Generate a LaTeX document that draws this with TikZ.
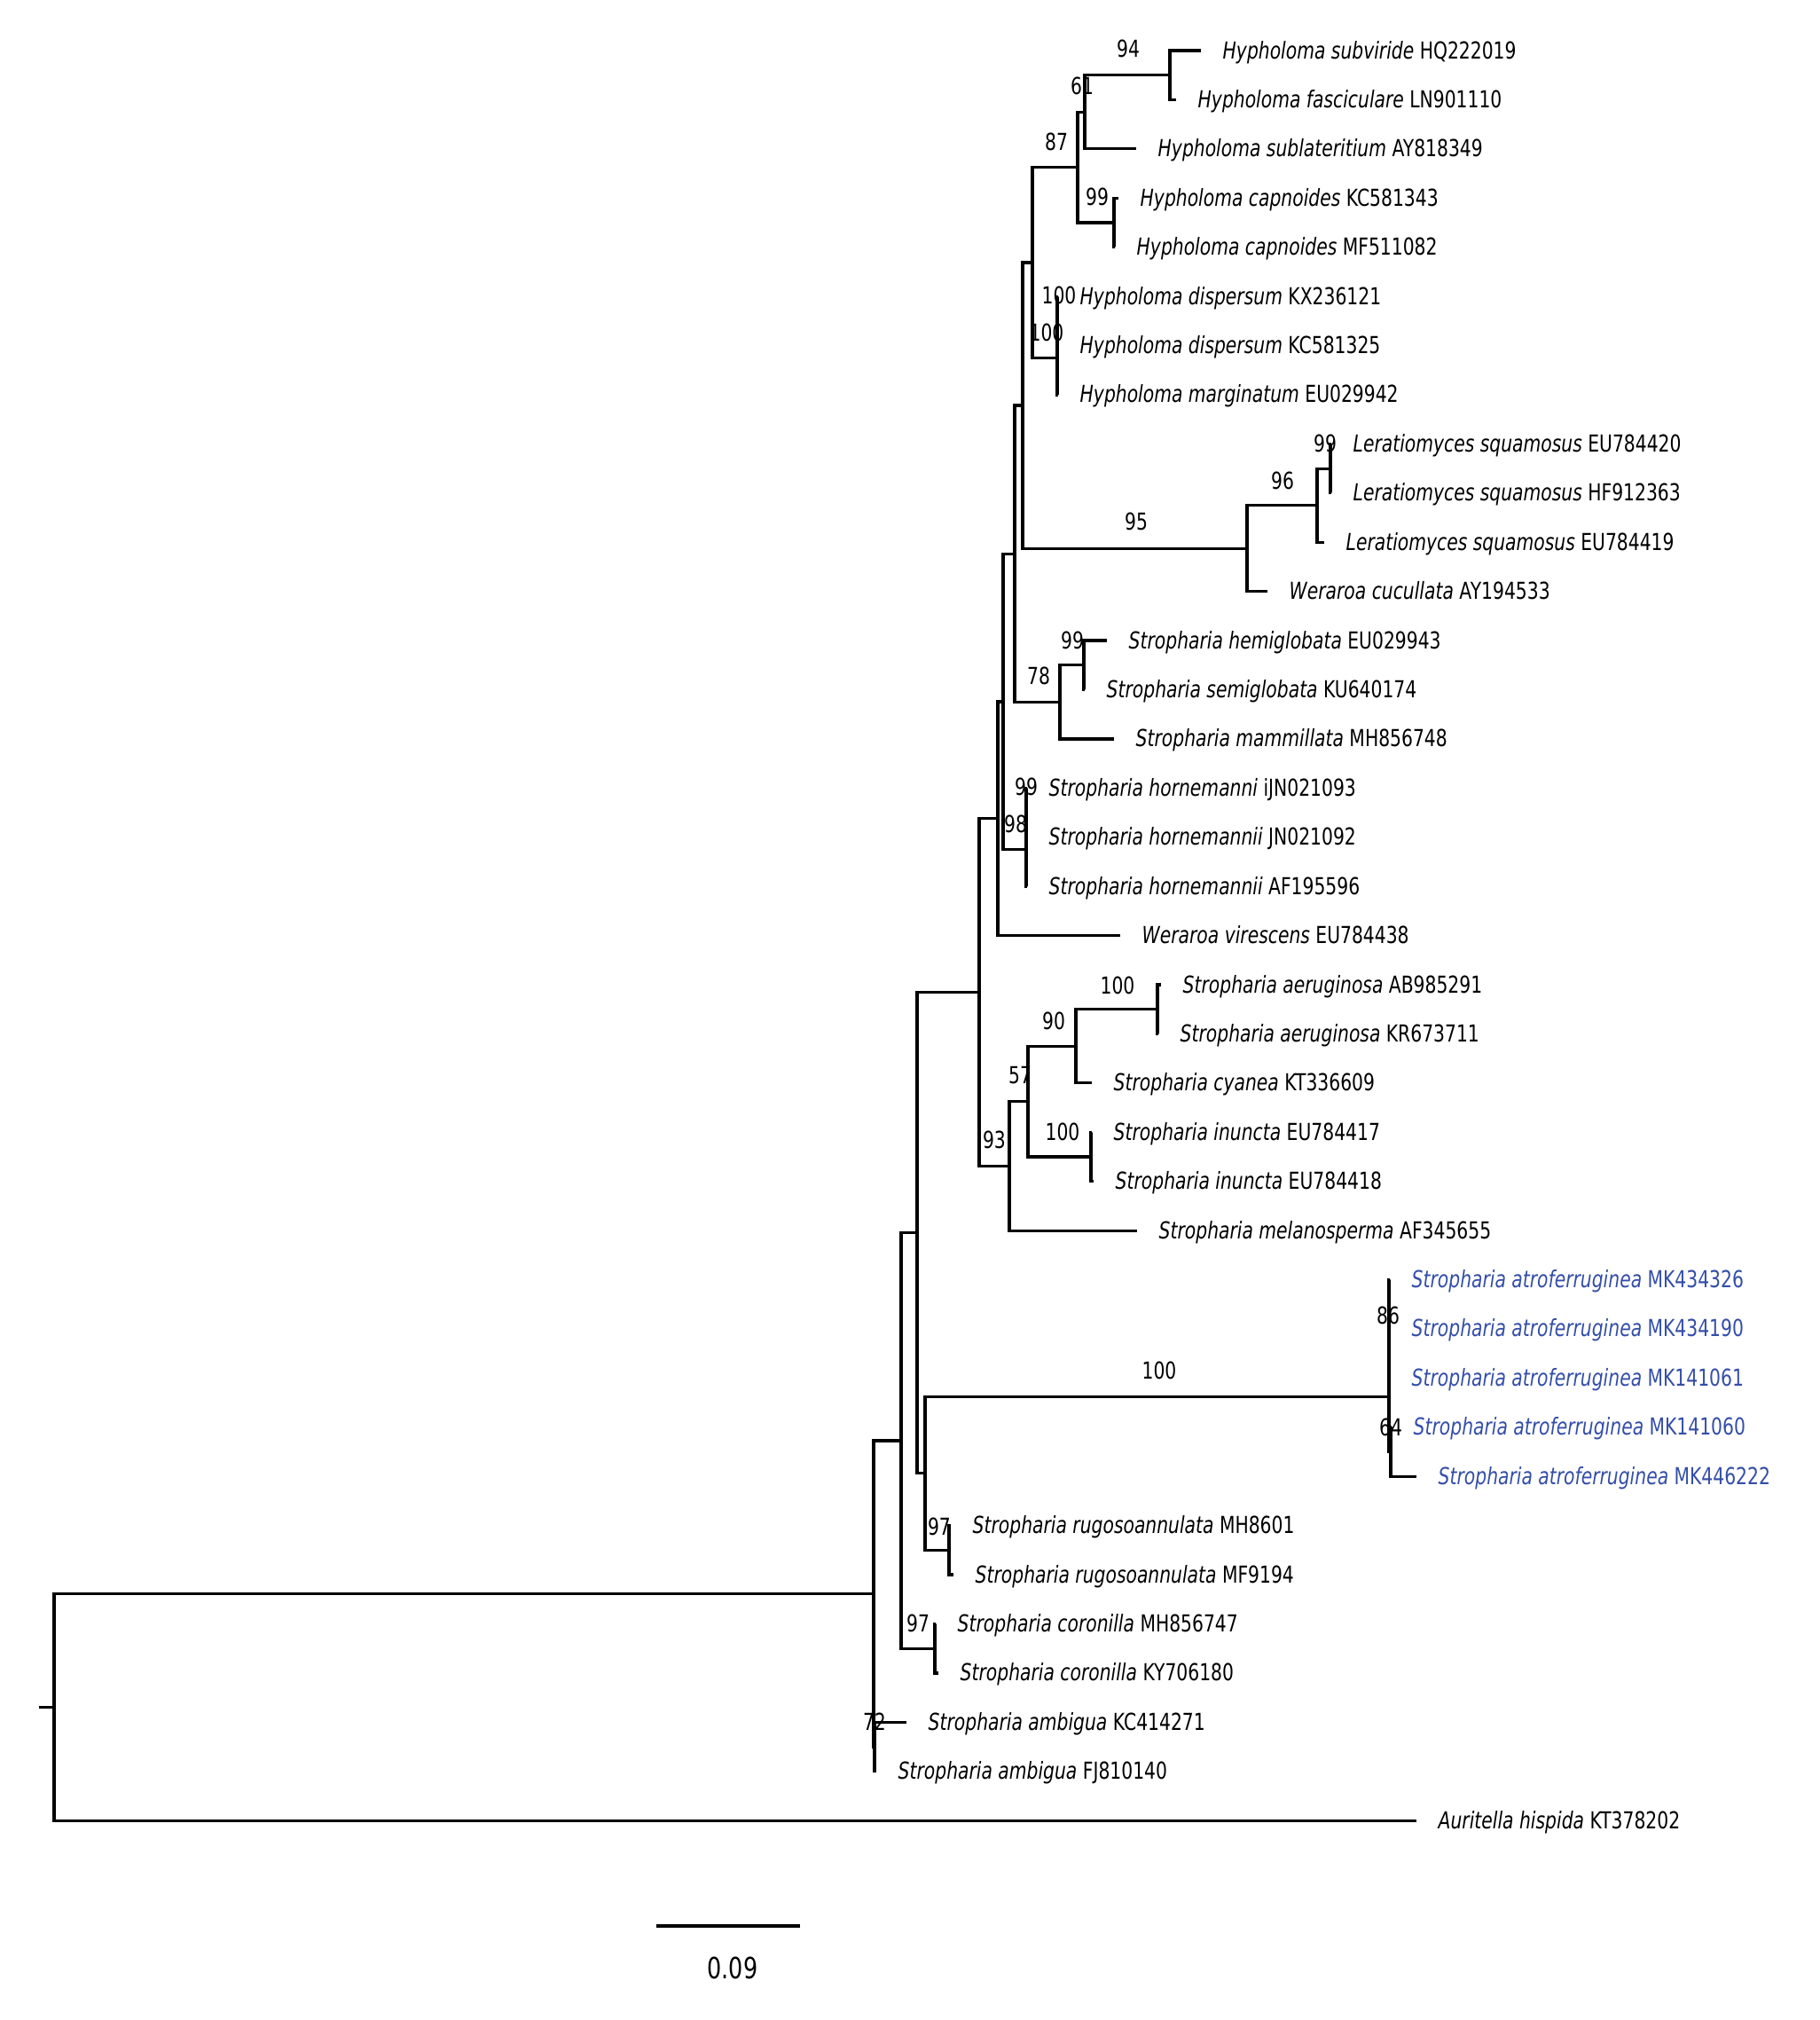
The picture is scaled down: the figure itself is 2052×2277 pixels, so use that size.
\documentclass[tikz,border=0pt]{standalone}
\usepackage{fontspec}
\usepackage{tikz}
\newfontfamily\treefont[FakeStretch=0.77,ItalicFont={DejaVu Sans Oblique}]{DejaVu Sans}
\definecolor{atroblue}{RGB}{52,78,168}

\begin{document}
\begin{tikzpicture}[
  x=0.01cm,y=-0.01cm,
  font=\treefont\fontsize{7.5}{8.5}\selectfont,
  branch/.style={draw=black,line width=0.9pt},
  taxon/.style={anchor=base west,inner sep=0pt,xshift=0.24cm,yshift=-0.09cm},
  newtaxon/.style={taxon,text=atroblue},
  boot/.style={inner sep=0pt},
  scalelab/.style={inner sep=0pt,font=\treefont\fontsize{9.4}{11}\selectfont}
]
\useasboundingbox (0,0) rectangle (2052,2277);

% leaf tips
\coordinate (t1) at (1354,57.0);
\coordinate (t2) at (1326,112.4);
\coordinate (t3) at (1281,167.8);
\coordinate (t4) at (1261,223.3);
\coordinate (t5) at (1257,278.7);
\coordinate (t6) at (1193,334.1);
\coordinate (t7) at (1193,389.5);
\coordinate (t8) at (1193,444.9);
\coordinate (t9) at (1501,500.4);
\coordinate (t10) at (1501,555.8);
\coordinate (t11) at (1493,611.2);
\coordinate (t12) at (1429,666.6);
\coordinate (t13) at (1248,722.0);
\coordinate (t14) at (1223,777.5);
\coordinate (t15) at (1256,832.9);
\coordinate (t16) at (1158,888.3);
\coordinate (t17) at (1158,943.7);
\coordinate (t18) at (1158,999.1);
\coordinate (t19) at (1263,1054.6);
\coordinate (t20) at (1309,1110.0);
\coordinate (t21) at (1306,1165.4);
\coordinate (t22) at (1231,1220.8);
\coordinate (t23) at (1231,1276.2);
\coordinate (t24) at (1233,1331.7);
\coordinate (t25) at (1282,1387.1);
\coordinate (t26) at (1567,1442.5);
\coordinate (t27) at (1567,1497.9);
\coordinate (t28) at (1567,1553.3);
\coordinate (t29) at (1569,1608.8);
\coordinate (t30) at (1597,1664.2);
\coordinate (t31) at (1072,1719.6);
\coordinate (t32) at (1075,1775.0);
\coordinate (t33) at (1055,1830.4);
\coordinate (t34) at (1058,1885.9);
\coordinate (t35) at (1022,1941.3);
\coordinate (t36) at (988,1996.7);
\coordinate (t37) at (1597,2052.1);

% internal nodes
\coordinate (nA) at (1319,84.7);
\coordinate (nB) at (1223,126.3);
\coordinate (nC) at (1256,251.0);
\coordinate (nD) at (1215,188.6);
\coordinate (nE) at (1192,361.8);
\coordinate (nF) at (1192,403.4);
\coordinate (nG) at (1164,296.0);
\coordinate (nH) at (1500,528.1);
\coordinate (nI) at (1485,569.7);
\coordinate (nJ) at (1406,618.1);
\coordinate (nK) at (1153,457.0);
\coordinate (nN) at (1222,749.8);
\coordinate (nM) at (1195,791.3);
\coordinate (nL) at (1144,624.2);
\coordinate (nQ) at (1157,916.0);
\coordinate (nR) at (1157,957.6);
\coordinate (nP) at (1131,790.9);
\coordinate (nS) at (1125,922.8);
\coordinate (nAer) at (1305,1137.7);
\coordinate (nW) at (1213,1179.3);
\coordinate (nInu) at (1230,1304.0);
\coordinate (nV) at (1159,1241.6);
\coordinate (nU) at (1138,1314.4);
\coordinate (nT) at (1104,1118.6);
\coordinate (nAt1) at (1566,1470.2);
\coordinate (nAt2) at (1566,1511.8);
\coordinate (nAt4) at (1568,1636.5);
\coordinate (nAt3) at (1566,1574.1);
\coordinate (nRug) at (1070,1747.3);
\coordinate (nY) at (1043,1660.7);
\coordinate (nX1) at (1034,1389.6);
\coordinate (nCor) at (1054,1858.2);
\coordinate (nX0) at (1016,1623.9);
\coordinate (nAmb) at (986,1969.0);
\coordinate (nIng) at (985,1796.5);
\coordinate (nRoot) at (61,1924.3);
\coordinate (rootstub) at (44,1924.3);

% branches
\draw[branch] (t1) -| (nA) |- (t2);
\draw[branch] (nA) -| (nB) |- (t3);
\draw[branch] (t4) -| (nC) |- (t5);
\draw[branch] (nB) -| (nD) |- (nC);
\draw[branch] (t6) -| (nE) |- (t7);
\draw[branch] (nE) -| (nF) |- (t8);
\draw[branch] (nD) -| (nG) |- (nF);
\draw[branch] (t9) -| (nH) |- (t10);
\draw[branch] (nH) -| (nI) |- (t11);
\draw[branch] (nI) -| (nJ) |- (t12);
\draw[branch] (nG) -| (nK) |- (nJ);
\draw[branch] (t13) -| (nN) |- (t14);
\draw[branch] (nN) -| (nM) |- (t15);
\draw[branch] (nK) -| (nL) |- (nM);
\draw[branch] (t16) -| (nQ) |- (t17);
\draw[branch] (nQ) -| (nR) |- (t18);
\draw[branch] (nL) -| (nP) |- (nR);
\draw[branch] (nP) -| (nS) |- (t19);
\draw[branch] (t20) -| (nAer) |- (t21);
\draw[branch] (nAer) -| (nW) |- (t22);
\draw[branch] (t23) -| (nInu) |- (t24);
\draw[branch] (nW) -| (nV) |- (nInu);
\draw[branch] (nV) -| (nU) |- (t25);
\draw[branch] (nS) -| (nT) |- (nU);
\draw[branch] (t26) -| (nAt1) |- (t27);
\draw[branch] (nAt1) -| (nAt2) |- (t28);
\draw[branch] (t29) -| (nAt4) |- (t30);
\draw[branch] (nAt2) -| (nAt3) |- (nAt4);
\draw[branch] (t31) -| (nRug) |- (t32);
\draw[branch] (nAt3) -| (nY) |- (nRug);
\draw[branch] (nT) -| (nX1) |- (nY);
\draw[branch] (t33) -| (nCor) |- (t34);
\draw[branch] (nX1) -| (nX0) |- (nCor);
\draw[branch] (t35) -| (nAmb) |- (t36);
\draw[branch] (nX0) -| (nIng) |- (nAmb);
\draw[branch] (nIng) -| (nRoot) |- (t37);
\draw[branch] (nRoot) -- (rootstub);

% taxa
\node[taxon] (l1) at (t1) {\textit{Hypholoma subviride} HQ222019};
\node[taxon] (l2) at (t2) {\textit{Hypholoma fasciculare} LN901110};
\node[taxon] (l3) at (t3) {\textit{Hypholoma sublateritium} AY818349};
\node[taxon] (l4) at (t4) {\textit{Hypholoma capnoides} KC581343};
\node[taxon] (l5) at (t5) {\textit{Hypholoma capnoides} MF511082};
\node[taxon] (l6) at (t6) {\textit{Hypholoma dispersum} KX236121};
\node[taxon] (l7) at (t7) {\textit{Hypholoma dispersum} KC581325};
\node[taxon] (l8) at (t8) {\textit{Hypholoma marginatum} EU029942};
\node[taxon] (l9) at (t9) {\textit{Leratiomyces squamosus} EU784420};
\node[taxon] (l10) at (t10) {\textit{Leratiomyces squamosus} HF912363};
\node[taxon] (l11) at (t11) {\textit{Leratiomyces squamosus} EU784419};
\node[taxon] (l12) at (t12) {\textit{Weraroa cucullata} AY194533};
\node[taxon] (l13) at (t13) {\textit{Stropharia hemiglobata} EU029943};
\node[taxon] (l14) at (t14) {\textit{Stropharia semiglobata} KU640174};
\node[taxon] (l15) at (t15) {\textit{Stropharia mammillata} MH856748};
\node[taxon] (l16) at (t16) {\textit{Stropharia hornemanni} iJN021093};
\node[taxon] (l17) at (t17) {\textit{Stropharia hornemannii} JN021092};
\node[taxon] (l18) at (t18) {\textit{Stropharia hornemannii} AF195596};
\node[taxon] (l19) at (t19) {\textit{Weraroa virescens} EU784438};
\node[taxon] (l20) at (t20) {\textit{Stropharia aeruginosa} AB985291};
\node[taxon] (l21) at (t21) {\textit{Stropharia aeruginosa} KR673711};
\node[taxon] (l22) at (t22) {\textit{Stropharia cyanea} KT336609};
\node[taxon] (l23) at (t23) {\textit{Stropharia inuncta} EU784417};
\node[taxon] (l24) at (t24) {\textit{Stropharia inuncta} EU784418};
\node[taxon] (l25) at (t25) {\textit{Stropharia melanosperma} AF345655};
\node[newtaxon] (l26) at (t26) {\textit{Stropharia atroferruginea} MK434326};
\node[newtaxon] (l27) at (t27) {\textit{Stropharia atroferruginea} MK434190};
\node[newtaxon] (l28) at (t28) {\textit{Stropharia atroferruginea} MK141061};
\node[newtaxon] (l29) at (t29) {\textit{Stropharia atroferruginea} MK141060};
\node[newtaxon] (l30) at (t30) {\textit{Stropharia atroferruginea} MK446222};
\node[taxon] (l31) at (t31) {\textit{Stropharia rugosoannulata} MH8601};
\node[taxon] (l32) at (t32) {\textit{Stropharia rugosoannulata} MF9194};
\node[taxon] (l33) at (t33) {\textit{Stropharia coronilla} MH856747};
\node[taxon] (l34) at (t34) {\textit{Stropharia coronilla} KY706180};
\node[taxon] (l35) at (t35) {\textit{Stropharia ambigua} KC414271};
\node[taxon] (l36) at (t36) {\textit{Stropharia ambigua} FJ810140};
\node[taxon] (l37) at (t37) {\textit{Auritella hispida} KT378202};

% bootstrap values
\node[boot] (bA) at (1272,55) {94};
\node[boot] (bB) at (1220,97) {61};
\node[boot] (bD) at (1191,160) {87};
\node[boot] (bC) at (1237,222) {99};
\node[boot] (bE) at (1194,333) {100};
\node[boot] (bF) at (1180,375) {100};
\node[boot] (bH) at (1494,500) {99};
\node[boot] (bI) at (1446,542) {96};
\node[boot] (bJ) at (1281,588) {95};
\node[boot] (bN) at (1209,722) {99};
\node[boot] (bM) at (1171,762) {78};
\node[boot] (bQ) at (1157,887) {99};
\node[boot] (bR) at (1145,929) {98};
\node[boot] (bAer) at (1260,1111) {100};
\node[boot] (bW) at (1188,1151) {90};
\node[boot] (bV) at (1150,1212) {57};
\node[boot] (bInu) at (1198,1276) {100};
\node[boot] (bU) at (1121,1285) {93};
\node[boot] (bAt2) at (1565,1483) {86};
\node[boot] (bAt3) at (1307,1545) {100};
\node[boot] (bAt4) at (1568,1609) {64};
\node[boot] (bRug) at (1059,1721) {97};
\node[boot] (bCor) at (1035,1830) {97};
\node[boot] (bAmb) at (986,1941) {72};

% scale bar
\coordinate (sb0) at (740,2171);
\coordinate (sb1) at (902,2171);
\draw[branch] (sb0) -- (sb1);
\node[scalelab] (sbl) at (826,2218) {0.09};
\end{tikzpicture}
\end{document}
